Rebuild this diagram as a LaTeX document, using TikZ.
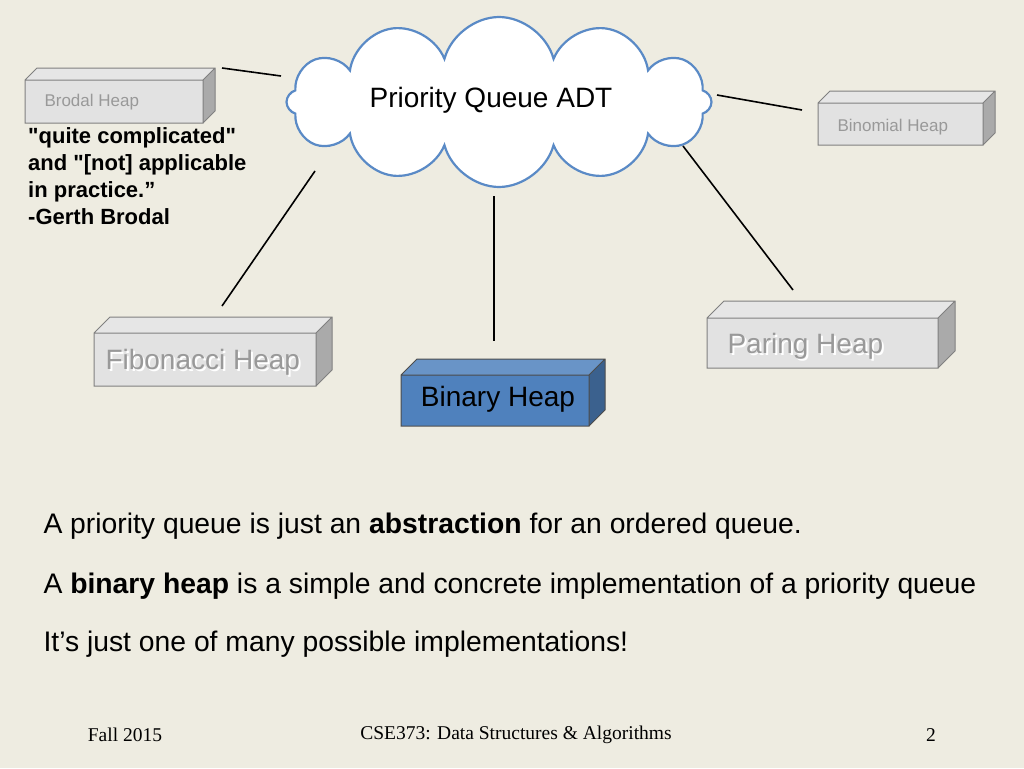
\documentclass[tikz,border=0pt]{standalone}
\usepackage{fontspec}
\setmainfont{Liberation Sans}
\newfontfamily\seriff{Liberation Serif}
\usetikzlibrary{shapes.symbols}
\definecolor{bg}{HTML}{EEECE1}
\definecolor{boxf}{HTML}{E2E2E2}
\definecolor{bluef}{HTML}{4F81BD}
\definecolor{cloudl}{HTML}{5A8AC6}
\newcommand{\threebox}[7]{%
 \fill[#6!75!black] (#3,#2)--(#3+#5,#2-#5)--(#3+#5,#4-#5)--(#3,#4)--cycle;
 \fill[#6!85!white] (#1,#2)--(#1+#5,#2-#5)--(#3+#5,#2-#5)--(#3,#2)--cycle;
 \fill[#6] (#1,#2) rectangle (#3,#4);
 \draw[#7,line width=1pt] (#1,#2) rectangle (#3,#4) (#1,#2)--(#1+#5,#2-#5)--(#3+#5,#2-#5)--(#3+#5,#4-#5)--(#3,#4) (#3,#2)--(#3+#5,#2-#5);}
\tikzset{ln/.style={line width=1.6pt,black},
 gtxt/.style={text=gray!80,anchor=west}}
\begin{document}
\begin{tikzpicture}[x=1pt,y=-1pt]
\fill[bg] (0,0) rectangle (1024,768);
\useasboundingbox (0,0) rectangle (1024,768);
\threebox{25}{80}{203}{123}{12}{boxf}{gray}
\threebox{818}{103}{983}{145}{12}{boxf}{gray}
\threebox{94}{333}{316}{386}{16}{boxf}{gray}
\threebox{707}{318}{938}{368}{17}{boxf}{gray}
\threebox{401}{375}{589}{426}{16}{bluef}{black!70}
\node[cloud,cloud puffs=12,aspect=2.6,draw=cloudl,line width=2.2pt,fill=white,minimum width=425pt,minimum height=170pt] (cl) at (499,102) {};
\node (cltxt) at (491,100) {\fontsize{28}{32}\selectfont Priority Queue ADT};
\node[gtxt] (br) at (41,102) {\fontsize{17}{20}\selectfont Brodal Heap};
\node[gtxt] (bn) at (834,127) {\fontsize{17}{20}\selectfont Binomial Heap};
\node[gtxt,text=white] at (104,364) {\fontsize{28}{32}\selectfont Fibonacci Heap};
\node[gtxt] (fb) at (102,362) {\fontsize{28}{32}\selectfont Fibonacci Heap};
\node[gtxt,text=white] at (726,348) {\fontsize{28}{32}\selectfont Paring Heap};
\node[gtxt] (pr) at (724,346) {\fontsize{28}{32}\selectfont Paring Heap};
\node (bh) at (498,399) {\fontsize{28}{32}\selectfont Binary Heap};
\node[anchor=north west,align=left,inner sep=0,font=\fontsize{22}{27}\selectfont\bfseries] (q) at (28,127) {\textquotedbl quite complicated\textquotedbl\\ and \textquotedbl[not] applicable\\ in practice.”\\ -Gerth Brodal};
\coordinate (a1) at (222,68); \coordinate (a2) at (281,76);
\coordinate (b1) at (717,95); \coordinate (b2) at (802,110);
\coordinate (c1) at (315,171); \coordinate (c2) at (222,306);
\coordinate (d1) at (494,196); \coordinate (d2) at (494,341);
\coordinate (e1) at (683,146); \coordinate (e2) at (793,290);
\draw[ln] (a1)--(a2); \draw[ln] (b1)--(b2); \draw[ln] (c1)--(c2);
\draw[ln] (d1)--(d2); \draw[ln] (e1)--(e2);
\node[anchor=west] (t1) at (40,526) {\fontsize{28.3}{32}\selectfont A priority queue is just an \textbf{abstraction} for an ordered queue.};
\node[anchor=west] (t2) at (40,586) {\fontsize{28.3}{32}\selectfont A \textbf{binary heap} is a simple and concrete implementation of a priority queue};
\node[anchor=west] (t3) at (40,644) {\fontsize{28.3}{32}\selectfont It’s just one of many possible implementations!};
\node (f1) at (125,735) {\seriff\fontsize{19.5}{22}\selectfont Fall 2015};
\node (f2) at (516,735) {\seriff\fontsize{19.5}{22}\selectfont CSE373: Data Structures \& Algorithms};
\node (f3) at (931,735) {\seriff\fontsize{19.5}{22}\selectfont 2};
\end{tikzpicture}
\end{document}
